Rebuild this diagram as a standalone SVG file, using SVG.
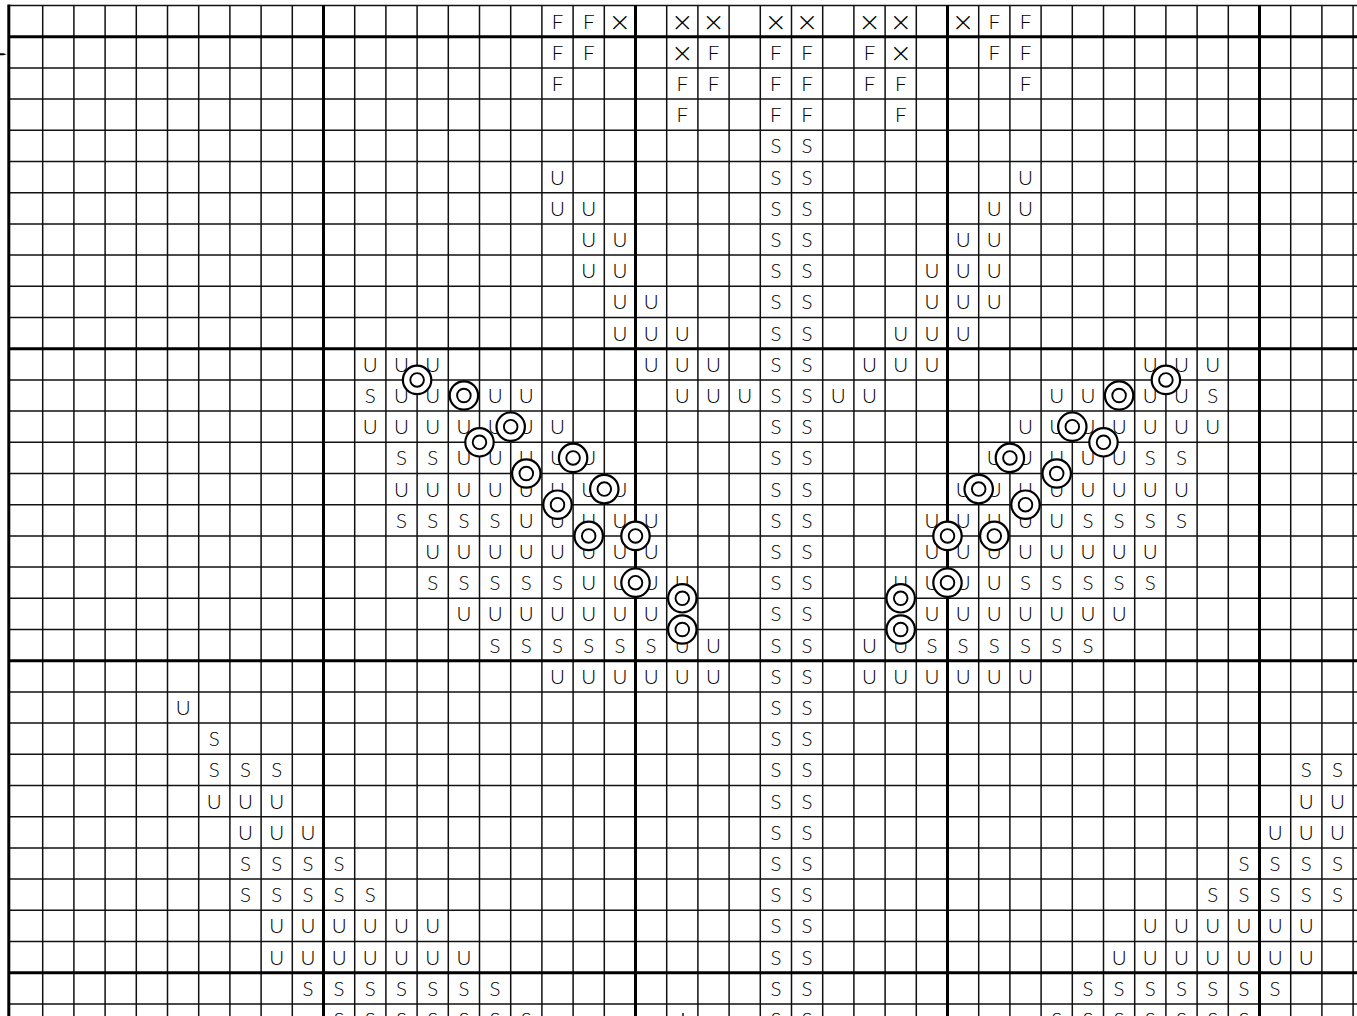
<svg xmlns="http://www.w3.org/2000/svg" xmlns:xlink="http://www.w3.org/1999/xlink" width="1357" height="1016" viewBox="0 0 1357 1016">
<style>
.thin{stroke:#111;stroke-width:1.5;fill:none}
.thick{stroke:#000;stroke-width:3;fill:none}
text{font-family:Lato,"Open Sans","Liberation Sans",sans-serif;font-weight:300;font-size:20.5px;fill:#000;text-anchor:middle}
.x{font-family:"DejaVu Sans",sans-serif;font-size:27px;font-weight:200}
.ring{fill:#fff;stroke:#000;stroke-width:2.2}
.core{fill:#fff;stroke:#000;stroke-width:1.9}
</style>
<defs>
<g id="bead"><circle class="ring" r="14.2"/><circle class="core" r="6.8"/></g>
</defs>
<rect width="1357" height="1016" fill="#fff"/>
<g id="grid">
<path class="thin" d="M42.7 5V1016M73.9 5V1016M105.1 5V1016M136.3 5V1016M167.5 5V1016M198.7 5V1016M229.9 5V1016M261.1 5V1016M292.3 5V1016M354.7 5V1016M385.9 5V1016M417.1 5V1016M448.3 5V1016M479.5 5V1016M510.7 5V1016M541.9 5V1016M573.1 5V1016M604.3 5V1016M666.7 5V1016M697.9 5V1016M729.1 5V1016M760.3 5V1016M791.5 5V1016M822.7 5V1016M853.9 5V1016M885.1 5V1016M916.3 5V1016M978.7 5V1016M1009.9 5V1016M1041.1 5V1016M1072.3 5V1016M1103.5 5V1016M1134.7 5V1016M1165.9 5V1016M1197.1 5V1016M1228.3 5V1016M1290.7 5V1016M1321.9 5V1016M1353.1 5V1016"/>
<path class="thin" d="M8.8 5.5H1357M8.8 67.9H1357M8.8 99.1H1357M8.8 130.3H1357M8.8 161.5H1357M8.8 192.7H1357M8.8 223.9H1357M8.8 255.1H1357M8.8 286.3H1357M8.8 317.5H1357M8.8 379.9H1357M8.8 411.1H1357M8.8 442.3H1357M8.8 473.5H1357M8.8 504.7H1357M8.8 535.9H1357M8.8 567.1H1357M8.8 598.3H1357M8.8 629.5H1357M8.8 691.9H1357M8.8 723.1H1357M8.8 754.3H1357M8.8 785.5H1357M8.8 816.7H1357M8.8 847.9H1357M8.8 879.1H1357M8.8 910.3H1357M8.8 941.5H1357M8.8 1003.9H1357"/>
<path class="thick" d="M8.8 4.5V1016M323.5 5V1016M635.5 5V1016M947.5 5V1016M1259.5 5V1016M8.8 36.7H1357M8.8 348.7H1357M8.8 660.7H1357M8.8 972.7H1357"/>
<path d="M0 53.3H3.5L6.5 54.3L3.5 55.3H0Z" fill="#000"/>
<path d="M683 1013V1016" class="thin"/>
</g>
<g id="symbols">
<text y="28.6"><tspan x="557.5 588.7">FF</tspan><tspan class="x" y="30.6" x="619.9 682.3 713.5 775.9 807.1 869.5 900.7 963.1">××××××××</tspan><tspan y="28.6" x="994.3 1025.5">FF</tspan></text>
<text y="59.8"><tspan x="557.5 588.7">FF</tspan><tspan class="x" y="61.8" x="682.3">×</tspan><tspan y="59.8" x="713.5 775.9 807.1 869.5">FFFF</tspan><tspan class="x" y="61.8" x="900.7">×</tspan><tspan y="59.8" x="994.3 1025.5">FF</tspan></text>
<text x="557.5 682.3 713.5 775.9 807.1 869.5 900.7 1025.5" y="91">FFFFFFFF</text>
<text x="682.3 775.9 807.1 900.7" y="122.2">FFFF</text>
<text x="775.9 807.1" y="153.4">SS</text>
<text x="557.5 775.9 807.1 1025.5" y="184.6">USSU</text>
<text x="557.5 588.7 775.9 807.1 994.3 1025.5" y="215.8">UUSSUU</text>
<text x="588.7 619.9 775.9 807.1 963.1 994.3" y="247">UUSSUU</text>
<text x="588.7 619.9 775.9 807.1 931.9 963.1 994.3" y="278.2">UUSSUUU</text>
<text x="619.9 651.1 775.9 807.1 931.9 963.1 994.3" y="309.4">UUSSUUU</text>
<text x="619.9 651.1 682.3 775.9 807.1 900.7 931.9 963.1" y="340.6">UUUSSUUU</text>
<text x="370.3 401.5 432.7 651.1 682.3 713.5 775.9 807.1 869.5 900.7 931.9 1150.3 1181.5 1212.7" y="371.8">UUUUUUSSUUUUUU</text>
<text x="370.3 401.5 432.7 495.1 526.3 682.3 713.5 744.7 775.9 807.1 838.3 869.5 1056.7 1087.9 1150.3 1181.5 1212.7" y="403">SUUUUUUUSSUUUUUUS</text>
<text x="370.3 401.5 432.7 463.9 495.1 526.3 557.5 775.9 807.1 1025.5 1056.7 1087.9 1119.1 1150.3 1181.5 1212.7" y="434.2">UUUUUUUSSUUUUUUU</text>
<text x="401.5 432.7 463.9 495.1 526.3 557.5 588.7 775.9 807.1 994.3 1025.5 1056.7 1087.9 1119.1 1150.3 1181.5" y="465.4">SSUUUUUSSUUUUUSS</text>
<text x="401.5 432.7 463.9 495.1 526.3 557.5 588.7 619.9 775.9 807.1 963.1 994.3 1025.5 1056.7 1087.9 1119.1 1150.3 1181.5" y="496.6">UUUUUUUUSSUUUUUUUU</text>
<text x="401.5 432.7 463.9 495.1 526.3 557.5 588.7 619.9 651.1 775.9 807.1 931.9 963.1 994.3 1025.5 1056.7 1087.9 1119.1 1150.3 1181.5" y="527.8">SSSSUUUUUSSUUUUUSSSS</text>
<text x="432.7 463.9 495.1 526.3 557.5 588.7 619.9 651.1 775.9 807.1 931.9 963.1 994.3 1025.5 1056.7 1087.9 1119.1 1150.3" y="559">UUUUUUUUSSUUUUUUUU</text>
<text x="432.7 463.9 495.1 526.3 557.5 588.7 619.9 651.1 682.3 775.9 807.1 900.7 931.9 963.1 994.3 1025.5 1056.7 1087.9 1119.1 1150.3" y="590.2">SSSSSUUUUSSUUUUSSSSS</text>
<text x="463.9 495.1 526.3 557.5 588.7 619.9 651.1 775.9 807.1 931.9 963.1 994.3 1025.5 1056.7 1087.9 1119.1" y="621.4">UUUUUUUSSUUUUUUU</text>
<text x="495.1 526.3 557.5 588.7 619.9 651.1 682.3 713.5 775.9 807.1 869.5 900.7 931.9 963.1 994.3 1025.5 1056.7 1087.9" y="652.6">SSSSSSUUSSUUSSSSSS</text>
<text x="557.5 588.7 619.9 651.1 682.3 713.5 775.9 807.1 869.5 900.7 931.9 963.1 994.3 1025.5" y="683.8">UUUUUUSSUUUUUU</text>
<text x="183.1 775.9 807.1" y="715">USS</text>
<text x="214.3 775.9 807.1" y="746.2">SSS</text>
<text x="214.3 245.5 276.7 775.9 807.1 1306.3 1337.5" y="777.4">SSSSSSS</text>
<text x="214.3 245.5 276.7 775.9 807.1 1306.3 1337.5" y="808.6">UUUSSUU</text>
<text x="245.5 276.7 307.9 775.9 807.1 1275.1 1306.3 1337.5" y="839.8">UUUSSUUU</text>
<text x="245.5 276.7 307.9 339.1 775.9 807.1 1243.9 1275.1 1306.3 1337.5" y="871">SSSSSSSSSS</text>
<text x="245.5 276.7 307.9 339.1 370.3 775.9 807.1 1212.7 1243.9 1275.1 1306.3 1337.5" y="902.2">SSSSSSSSSSSS</text>
<text x="276.7 307.9 339.1 370.3 401.5 432.7 775.9 807.1 1150.3 1181.5 1212.7 1243.9 1275.1 1306.3" y="933.4">UUUUUUSSUUUUUU</text>
<text x="276.7 307.9 339.1 370.3 401.5 432.7 463.9 775.9 807.1 1119.1 1150.3 1181.5 1212.7 1243.9 1275.1 1306.3" y="964.6">UUUUUUUSSUUUUUUU</text>
<text x="307.9 339.1 370.3 401.5 432.7 463.9 495.1 775.9 807.1 1087.9 1119.1 1150.3 1181.5 1212.7 1243.9 1275.1" y="995.8">SSSSSSSSSSSSSSSS</text>
<text x="339.1 370.3 401.5 432.7 463.9 495.1 526.3 775.9 807.1 1056.7 1087.9 1119.1 1150.3 1181.5 1212.7 1243.9" y="1027">SSSSSSSSSSSSSSSS</text>
</g>
<g id="beads">
<use xlink:href="#bead" x="417.1" y="379.9"/>
<use xlink:href="#bead" x="463.9" y="395.5"/>
<use xlink:href="#bead" x="510.7" y="426.7"/>
<use xlink:href="#bead" x="479.5" y="442.3"/>
<use xlink:href="#bead" x="573.1" y="457.9"/>
<use xlink:href="#bead" x="526.3" y="473.5"/>
<use xlink:href="#bead" x="604.3" y="489.1"/>
<use xlink:href="#bead" x="557.5" y="504.7"/>
<use xlink:href="#bead" x="588.7" y="535.9"/>
<use xlink:href="#bead" x="635.5" y="535.9"/>
<use xlink:href="#bead" x="635.5" y="582.7"/>
<use xlink:href="#bead" x="682.3" y="598.3"/>
<use xlink:href="#bead" x="682.3" y="629.5"/>
<use xlink:href="#bead" x="1165.9" y="379.9"/>
<use xlink:href="#bead" x="1119.1" y="395.5"/>
<use xlink:href="#bead" x="1072.3" y="426.7"/>
<use xlink:href="#bead" x="1103.5" y="442.3"/>
<use xlink:href="#bead" x="1009.9" y="457.9"/>
<use xlink:href="#bead" x="1056.7" y="473.5"/>
<use xlink:href="#bead" x="978.7" y="489.1"/>
<use xlink:href="#bead" x="1025.5" y="504.7"/>
<use xlink:href="#bead" x="947.5" y="535.9"/>
<use xlink:href="#bead" x="994.3" y="535.9"/>
<use xlink:href="#bead" x="947.5" y="582.7"/>
<use xlink:href="#bead" x="900.7" y="598.3"/>
<use xlink:href="#bead" x="900.7" y="629.5"/>
</g>
</svg>
